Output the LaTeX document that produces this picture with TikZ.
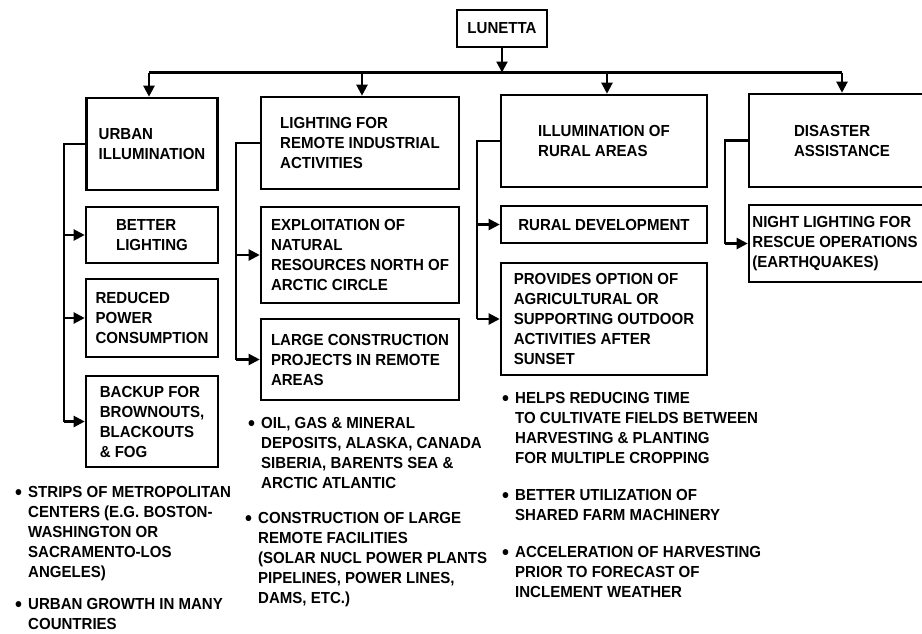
\documentclass[tikz,border=0pt]{standalone}
\usepackage{fontspec}
\setmainfont{Liberation Sans}[FakeStretch=0.94]
\usetikzlibrary{arrows.meta}
\newcommand{\bul}{\makebox[13pt][l]{\fontsize{21}{20}\selectfont\raisebox{-1.5pt}{\textbullet}}}
\newcommand{\ind}{\hspace*{13pt}}
\begin{document}
\begin{tikzpicture}[x=1pt,y=-1pt,
  txt/.style={font=\fontsize{16}{20}\selectfont\bfseries},
  box/.style={txt,draw,line width=2.6pt,inner sep=0pt,align=left},
  bullets/.style={txt,anchor=north west,inner sep=0pt,align=left},
  conn/.style={line width=2.2pt},
  arr/.style={conn,-{Triangle[length=11pt,width=11pt]}}]
\useasboundingbox (0,0) rectangle (922,633);
\clip (0,0) rectangle (922,633);
\fill[white] (0,0) rectangle (922,633);
% top
\node[box,minimum width=90pt,minimum height=37pt] (lun) at (502,28.5) {LUNETTA};
% column boxes
\node[box,minimum width=131pt,minimum height=92pt] (urb) at (152,144) {URBAN\\ILLUMINATION};
\node[box,minimum width=132pt,minimum height=56pt] (bet) at (152,235) {BETTER\\LIGHTING};
\node[box,minimum width=132pt,minimum height=78pt] (red) at (152,318) {REDUCED\\POWER\\CONSUMPTION};
\node[box,minimum width=132pt,minimum height=91pt] (bak) at (152,421.5) {BACKUP FOR\\BROWNOUTS,\\BLACKOUTS\\\& FOG};
\node[box,minimum width=198pt,minimum height=92pt] (lig) at (360,143) {LIGHTING FOR\\REMOTE INDUSTRIAL\\ACTIVITIES};
\node[box,minimum width=198pt,minimum height=96pt] (exp) at (360,255) {EXPLOITATION OF\\NATURAL\\RESOURCES NORTH OF\\ARCTIC CIRCLE};
\node[box,minimum width=198pt,minimum height=81pt] (lar) at (360,359.5) {LARGE CONSTRUCTION\\PROJECTS IN REMOTE\\AREAS};
\node[box,minimum width=206pt,minimum height=92pt] (rur) at (604,141) {ILLUMINATION OF\\RURAL AREAS};
\node[box,minimum width=206pt,minimum height=37pt] (dev) at (604,224.5) {RURAL DEVELOPMENT};
\node[box,minimum width=206pt,minimum height=112pt] (pro) at (604,319) {PROVIDES OPTION OF\\AGRICULTURAL OR\\SUPPORTING OUTDOOR\\ACTIVITIES AFTER\\SUNSET};
\node[box,minimum width=186pt,minimum height=93pt] (dis) at (842,140.5) {DISASTER\\ASSISTANCE};
\node[box,minimum width=186pt,minimum height=77pt] (nig) at (842,243.5) {NIGHT LIGHTING FOR\\RESCUE OPERATIONS\kern14pt\relax\\(EARTHQUAKES)};
% bus
\coordinate (b1) at (149,72.5);
\coordinate (b2) at (362,72.5);
\coordinate (b3) at (607,72.5);
\coordinate (b4) at (842,72.5);
\draw[arr] (lun.south) -- (lun.south |- b1);
\draw[conn] (b1) -- (b4);
\draw[arr] (b1) -- (b1 |- urb.north);
\draw[arr] (b2) -- (b2 |- lig.north);
\draw[arr] (b3) -- (b3 |- rur.north);
\draw[arr] (b4) -- (b4 |- dis.north);
% trunks
\coordinate (t1) at (64,0);
\coordinate (t2) at (236,0);
\coordinate (t3) at (477,0);
\coordinate (t4) at (725,0);
\draw[conn] (urb.west) -- (urb.west -| t1) -- (bak.west -| t1);
\draw[arr] (bet.west -| t1) -- (bet.west);
\draw[arr] (red.west -| t1) -- (red.west);
\draw[arr] (bak.west -| t1) -- (bak.west);
\draw[conn] (lig.west) -- (lig.west -| t2) -- (lar.west -| t2);
\draw[arr] (exp.west -| t2) -- (exp.west);
\draw[arr] (lar.west -| t2) -- (lar.west);
\draw[conn] (rur.west) -- (rur.west -| t3) -- (pro.west -| t3);
\draw[arr] (dev.west -| t3) -- (dev.west);
\draw[arr] (pro.west -| t3) -- (pro.west);
\draw[conn] (dis.west) -- (dis.west -| t4) -- (nig.west -| t4);
\draw[arr] (nig.west -| t4) -- (nig.west);
% bullet lists
\node[bullets] (u1) at (15,486.5) {\bul STRIPS OF METROPOLITAN\\\ind CENTERS (E.G. BOSTON-\\\ind WASHINGTON OR\\\ind SACRAMENTO-LOS\\\ind ANGELES)};
\node[bullets] (u2) at (15,598.5) {\bul URBAN GROWTH IN MANY\\\ind COUNTRIES};
\node[bullets] (l1) at (248,417.5) {\bul OIL, GAS \& MINERAL\\\ind DEPOSITS, ALASKA, CANADA\\\ind SIBERIA, BARENTS SEA \&\\\ind ARCTIC ATLANTIC};
\node[bullets] (l2) at (245,512.5) {\bul CONSTRUCTION OF LARGE\\\ind REMOTE FACILITIES\\\ind (SOLAR NUCL POWER PLANTS\\\ind PIPELINES, POWER LINES,\\\ind DAMS, ETC.)};
\node[bullets] (r1) at (502,392.5) {\bul HELPS REDUCING TIME\\\ind TO CULTIVATE FIELDS BETWEEN\\\ind HARVESTING \& PLANTING\\\ind FOR MULTIPLE CROPPING};
\node[bullets] (r2) at (502,489.5) {\bul BETTER UTILIZATION OF\\\ind SHARED FARM MACHINERY};
\node[bullets] (r3) at (502,546.5) {\bul ACCELERATION OF HARVESTING\\\ind PRIOR TO FORECAST OF\\\ind INCLEMENT WEATHER};
\end{tikzpicture}
\end{document}
